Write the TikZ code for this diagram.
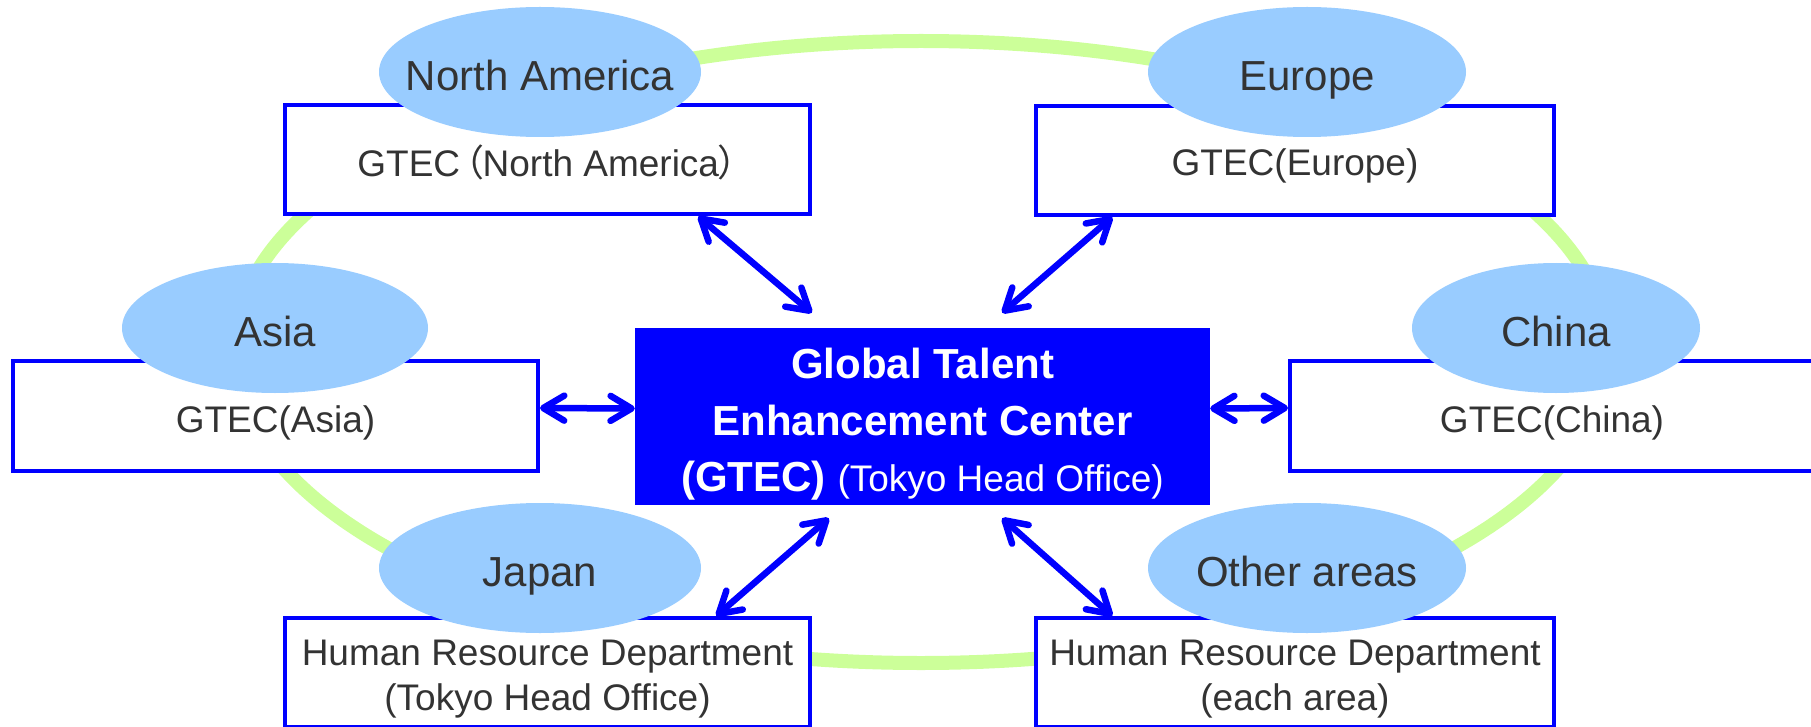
\documentclass[tikz,border=0pt]{standalone}
\usepackage{fontspec}
\setmainfont{Liberation Sans}
\newfontfamily\cjk[RawFeature=+palt]{Noto Sans CJK JP}
\usetikzlibrary{shapes.geometric,arrows.meta,calc}
\definecolor{ringgreen}{HTML}{CCFF99}
\definecolor{bubble}{HTML}{99CCFF}
\definecolor{pureblue}{HTML}{0000FF}
\definecolor{txt}{HTML}{333333}
\begin{document}
\begin{tikzpicture}[x=1pt,y=-1pt,
  region/.style={ellipse, fill=bubble, inner sep=0pt, minimum height=130pt},
  regtext/.style={text=txt, inner sep=0pt, text height=30.6pt, text depth=0pt, yshift=-3pt, font=\fontsize{42pt}{50pt}\selectfont},
  unitbox/.style={rectangle, draw=pureblue, line width=4pt, fill=white, minimum height=109pt, inner sep=0pt},
  boxtext/.style={text=txt, inner sep=0pt, align=center, yshift=-7pt, font=\fontsize{37pt}{45pt}\selectfont},
  link/.style={pureblue, line width=6.5pt, {Straight Barb[length=21pt,width=25pt,round]}-{Straight Barb[length=21pt,width=25pt,round]}},
  ring/.style={ringgreen, line width=14pt}]
\useasboundingbox (0,0) rectangle (1811,727);
\clip (0,0) rectangle (1811,727);
% green ring
\draw[ring] (921,352) ellipse [x radius=687pt, y radius=311pt];
% boxes
\node[unitbox, minimum width=525pt, label={[boxtext, yshift=5pt]center:GTEC\kern4pt{\cjk （}North America{\cjk ）}}] (nabox) at (547.5,160) {};
\node[unitbox, minimum width=518pt, label={[boxtext, yshift=2pt]center:GTEC(Europe)}] (eubox) at (1295,160.5) {};
\node[unitbox, minimum width=525pt, minimum height=110pt, label={[boxtext]center:GTEC(Asia)}] (asbox) at (275.5,416) {};
\node[unitbox, minimum width=524pt, minimum height=110pt, label={[boxtext]center:GTEC(China)}] (cnbox) at (1552,416) {};
\node[unitbox, minimum width=525pt, label={[boxtext]center:Human Resource Department\\(Tokyo Head Office)}] (jpbox) at (547.5,672.5) {};
\node[unitbox, minimum width=518pt, label={[boxtext]center:Human Resource Department\\(each area)}] (otbox) at (1295,672.5) {};
% center
\node[rectangle, fill=pureblue, inner sep=0pt, minimum width=575pt, minimum height=177pt,
  label={[text=white, align=center, inner sep=0pt, yshift=-8pt, font=\fontsize{42pt}{56.5pt}\selectfont\bfseries]center:Global Talent\\Enhancement Center\\(GTEC) {\fontsize{37pt}{56.5pt}\selectfont\mdseries(Tokyo Head Office)}}] (gtec) at (922.5,416.5) {};
% region bubbles
\node[region, minimum width=322pt, label={[regtext]center:North America}] (na) at (540,72) {};
\node[region, minimum width=318pt, label={[regtext]center:Europe}] (eu) at (1307,72) {};
\node[region, minimum width=306pt, label={[regtext]center:Asia}] (as) at (275,328) {};
\node[region, minimum width=288pt, label={[regtext]center:China}] (cn) at (1556,328) {};
\node[region, minimum width=322pt, label={[regtext]center:Japan}] (jp) at (540,568) {};
\node[region, minimum width=318pt, label={[regtext]center:Other areas}] (ot) at (1307,568) {};
% arrows
\coordinate (naA) at ($(nabox.south west)!0.785!(nabox.south east)$);
\coordinate (naB) at ($(gtec.north west)+(177,-15)$);
\coordinate (euA) at ($(eubox.south west)!0.15!(eubox.south east)$);
\coordinate (euB) at ($(gtec.north east)+(-208,-15)$);
\coordinate (jpA) at ($(jpbox.north west)!0.819!(jpbox.north east)$);
\coordinate (jpB) at ($(gtec.south west)+(194,13)$);
\coordinate (otA) at ($(otbox.north west)!0.15!(otbox.north east)$);
\coordinate (otB) at ($(gtec.south east)+(-208,13)$);
\draw[link] (naA) -- (naB);
\draw[link] (euA) -- (euB);
\draw[link] (jpA) -- (jpB);
\draw[link] (otA) -- (otB);
\draw[link] ([yshift=8pt]asbox.east) -- ([yshift=8pt]gtec.west);
\draw[link] ([yshift=8pt]gtec.east) -- ([yshift=8pt]cnbox.west);
\end{tikzpicture}
\end{document}
